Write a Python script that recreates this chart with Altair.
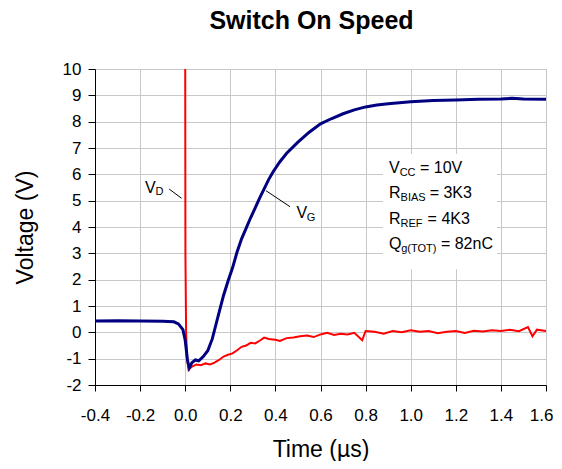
import altair as alt
import pandas as pd

# ---- data ----
t_vg = [-0.40, -0.30, -0.20, -0.10, -0.05, -0.03, -0.01, 0.000, 0.010, 0.018, 0.030, 0.045,
        0.060, 0.080, 0.100, 0.120, 0.135, 0.150, 0.170, 0.190, 0.210, 0.230, 0.250, 0.270,
        0.290, 0.310, 0.330, 0.350, 0.370, 0.390, 0.420, 0.450, 0.500, 0.550, 0.600, 0.650,
        0.700, 0.750, 0.800, 0.850, 0.900, 0.950, 1.000, 1.100, 1.200, 1.300, 1.400, 1.450,
        1.500, 1.600]
v_vg = [0.43, 0.44, 0.43, 0.42, 0.40, 0.32, 0.10, -0.30, -1.05, -1.35, -1.15, -1.05,
        -1.08, -0.92, -0.70, -0.25, 0.25, 0.75, 1.40, 1.95, 2.45, 3.05, 3.55, 3.95,
        4.35, 4.72, 5.10, 5.45, 5.80, 6.10, 6.48, 6.80, 7.22, 7.60, 7.92, 8.12,
        8.30, 8.45, 8.56, 8.63, 8.68, 8.72, 8.76, 8.80, 8.82, 8.85, 8.86, 8.89,
        8.86, 8.85]

t_vd = [0.000, 0.001, 0.004, 0.008, 0.015, 0.03, 0.05, 0.07, 0.09, 0.11, 0.13, 0.15,
        0.17, 0.19, 0.21, 0.23, 0.25, 0.27, 0.29, 0.31, 0.33, 0.35, 0.37, 0.40,
        0.42, 0.45, 0.48, 0.51, 0.54, 0.57, 0.60, 0.63, 0.66, 0.69, 0.72, 0.75,
        0.785, 0.80, 0.84, 0.88, 0.92, 0.96, 1.00, 1.04, 1.08, 1.12, 1.16, 1.20,
        1.24, 1.28, 1.32, 1.36, 1.40, 1.44, 1.48, 1.52, 1.54, 1.56, 1.60]
v_vd = [10.5, 3.0, 0.0, -1.0, -1.42, -1.30, -1.22, -1.25, -1.18, -1.22, -1.15, -1.05,
        -0.92, -0.85, -0.80, -0.68, -0.55, -0.50, -0.40, -0.42, -0.32, -0.20, -0.25, -0.28,
        -0.33, -0.22, -0.20, -0.15, -0.12, -0.18, -0.08, -0.02, -0.10, -0.05, -0.08, -0.02,
        -0.30, 0.05, 0.02, -0.05, 0.05, 0.00, 0.08, 0.02, 0.05, -0.03, 0.02, 0.05,
        -0.02, 0.06, 0.03, 0.08, 0.05, 0.10, 0.04, 0.20, -0.15, 0.10, 0.05]

x_ticks = [-0.4, -0.2, 0.0, 0.2, 0.4, 0.6, 0.8, 1.0, 1.2, 1.4, 1.6]
y_ticks = list(range(-2, 11))

# annotation texts (positions in data units)
main_text = ["V", "V", "V", "R", "R", "Q"]
main_t = [-0.178, 0.494, 0.904, 0.904, 0.904, 0.904]
main_v = [5.31, 4.33, 6.05, 5.09, 4.11, 3.16]

sub_text = ["D", "G", "CC", "BIAS", "REF", "g(TOT)"]
sub_t = [-0.132, 0.539, 0.951, 0.955, 0.955, 0.958]
sub_v = [5.21, 4.24, 5.94, 4.99, 4.01, 3.06]

rest_text = ["= 10V", "= 3K3", "= 4K3", "= 82nC"]
rest_t = [1.041, 1.084, 1.075, 1.134]
rest_v = [6.05, 5.09, 4.11, 3.16]

leader_t = [-0.071, 0.358]
leader_t2 = [-0.016, 0.465]
leader_v = [5.44, 5.38]
leader_v2 = [5.09, 4.77]

box_t, box_t2, box_v, box_v2 = [0.877], [1.383], [6.77], [2.40]

FONT = "Liberation Sans"

df_vg = pd.DataFrame({"t": t_vg, "v": v_vg, "i": range(len(t_vg))})
df_vd = pd.DataFrame({"t": t_vd, "v": v_vd, "i": range(len(t_vd))})

x_enc = alt.X(
    "t:Q",
    scale=alt.Scale(domain=[-0.4, 1.6], nice=False, zero=False),
    axis=alt.Axis(
        values=x_ticks, format=".1f",
        labelExpr="replace(datum.label, '\u2212', '-')",
        labelFlush=False, labelOverlap=False, labelBound=False,
        labelAlign={"condition": {"test": "datum.value >= 1.59", "value": "right"}, "value": "center"},
        labelOffset={"condition": {"test": "datum.value >= 1.59", "value": 7}, "value": 0},
        title="Time (\u00b5s)", titleFont=FONT, titleFontSize=23, titleFontWeight="normal",
        titleColor="black", titlePadding=15,
        labelFont=FONT, labelFontSize=17, labelColor="black", labelPadding=16,
        tickSize=6, tickColor="black", domainColor="black",
        grid=True, gridColor="#c8c8c8", gridWidth=1,
    ),
)
y_enc = alt.Y(
    "v:Q",
    scale=alt.Scale(domain=[-2, 10], nice=False, zero=False),
    axis=alt.Axis(
        values=y_ticks, format="d",
        labelExpr="replace(datum.label, '\u2212', '-')",
        labelFlush=False, labelOverlap=False, labelBound=False,
        title="Voltage (V)", titleFont=FONT, titleFontSize=23, titleFontWeight="normal",
        titleColor="black", titlePadding=25,
        labelFont=FONT, labelFontSize=17, labelColor="black", labelPadding=7,
        tickSize=7, tickColor="black", domainColor="black",
        grid=True, gridColor="#c8c8c8", gridWidth=1,
    ),
)

box = alt.Chart(pd.DataFrame({"t": box_t, "t2": box_t2, "v": box_v, "v2": box_v2})).mark_rect(
    fill="white"
).encode(x=x_enc, x2=alt.X2("t2"), y=y_enc, y2=alt.Y2("v2"))

vd_line = alt.Chart(df_vd).mark_line(color="#ff0000", strokeWidth=2, clip=True).encode(
    x=x_enc, y=y_enc, order="i:Q"
)
vg_line = alt.Chart(df_vg).mark_line(color="#000080", strokeWidth=3, clip=True).encode(
    x=x_enc, y=y_enc, order="i:Q"
)

leaders = alt.Chart(pd.DataFrame({"t": leader_t, "t2": leader_t2, "v": leader_v, "v2": leader_v2})).mark_rule(
    color="black", strokeWidth=1
).encode(x=x_enc, x2=alt.X2("t2"), y=y_enc, y2=alt.Y2("v2"))

mains = alt.Chart(pd.DataFrame({"t": main_t, "v": main_v, "s": main_text})).mark_text(
    align="left", baseline="alphabetic", font=FONT, fontSize=16, color="black"
).encode(x=x_enc, y=y_enc, text="s:N")

subs = alt.Chart(pd.DataFrame({"t": sub_t, "v": sub_v, "s": sub_text})).mark_text(
    align="left", baseline="alphabetic", font=FONT, fontSize=11, color="black"
).encode(x=x_enc, y=y_enc, text="s:N")

rests = alt.Chart(pd.DataFrame({"t": rest_t, "v": rest_v, "s": rest_text})).mark_text(
    align="left", baseline="alphabetic", font=FONT, fontSize=16, color="black"
).encode(x=x_enc, y=y_enc, text="s:N")

chart = alt.layer(box, vd_line, vg_line, leaders, mains, subs, rests).properties(
    width=451,
    height=316,
    padding={"left": 87, "top": 61, "right": 8, "bottom": 76},
    autosize=alt.AutoSizeParams(type="none"),
    title=alt.TitleParams(
        text="Switch On Speed", font=FONT, fontSize=25, fontWeight="bold", color="black",
        anchor="middle", frame="group", dx=-9, offset=6, baseline="alphabetic",
    ),
).configure_view(stroke="black", strokeWidth=1).configure(background="white")

chart.save("out.html", embed_options={"renderer": "svg", "actions": False})
